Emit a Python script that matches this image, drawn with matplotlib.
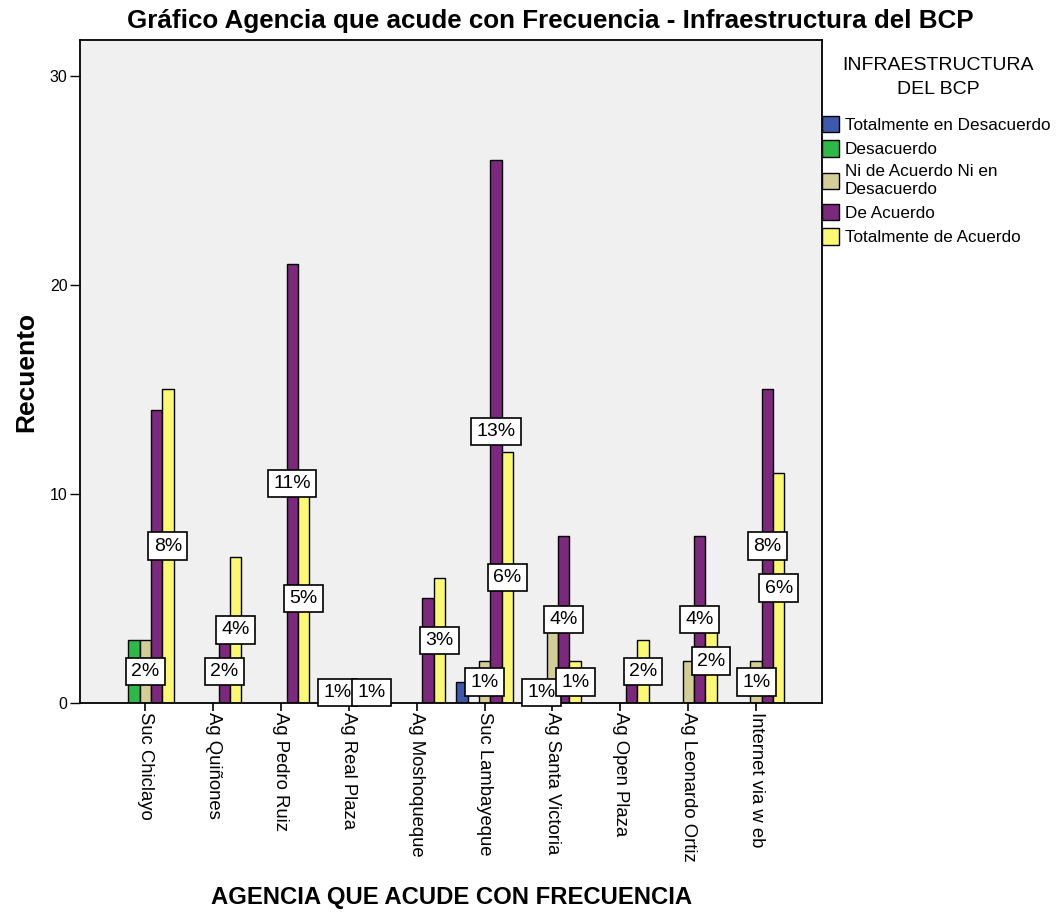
import matplotlib.pyplot as plt
import numpy as np

plt.rcParams['font.family'] = ['Liberation Sans', 'DejaVu Sans']

# Data
agencias = ['Suc Chiclayo', 'Ag Quiñones', 'Ag Pedro Ruiz', 'Ag Real Plaza', 'Ag Moshoqueque',
            'Suc Lambayeque', 'Ag Santa Victoria', 'Ag Open Plaza', 'Ag Leonardo Ortiz', 'Internet via w eb']
series = ['Totalmente en Desacuerdo', 'Desacuerdo', 'Ni de Acuerdo Ni en\nDesacuerdo',
          'De Acuerdo', 'Totalmente de Acuerdo']
tot_desacuerdo = [0, 0, 0, 0, 0, 1, 0, 0, 0, 0]
desacuerdo = [3, 0, 0, 1, 0, 0, 1, 0, 0, 0]
ni_ni = [3, 0, 0, 0, 0, 2, 4, 0, 2, 2]
de_acuerdo = [14, 3, 21, 0, 5, 26, 8, 1, 8, 15]
tot_acuerdo = [15, 7, 10, 1, 6, 12, 2, 3, 4, 11]
valores = [tot_desacuerdo, desacuerdo, ni_ni, de_acuerdo, tot_acuerdo]
colores = ['#3E58AC', '#2EB848', '#D3CE97', '#7C287D', '#FBF873']

# percentage labels shown on the chart: (agencia, serie, texto)
etiquetas = [(0, 2, '2%'), (0, 4, '8%'), (1, 3, '2%'), (1, 4, '4%'),
             (2, 3, '11%'), (2, 4, '5%'), (3, 1, '1%'), (3, 4, '1%'),
             (4, 4, '3%'), (5, 2, '1%'), (5, 3, '13%'), (5, 4, '6%'),
             (6, 1, '1%'), (6, 3, '4%'), (6, 4, '1%'), (7, 4, '2%'),
             (8, 3, '4%'), (8, 4, '2%'), (9, 2, '1%'), (9, 3, '8%'), (9, 4, '6%')]

fig = plt.figure(figsize=(10.57, 9.13), dpi=100)
ax = fig.add_axes([80/1057, 1 - 703/913, 742/1057, 663/913])
ax.set_facecolor('#F0F0F0')

x = np.arange(len(agencias))
w = 0.167
handles = []
for i, (vals, col) in enumerate(zip(valores, colores)):
    vals = np.array(vals, dtype=float)
    mask = vals > 0
    b = ax.bar(x[mask] + (i - 2) * w, vals[mask], width=w, color=col,
               edgecolor='black', linewidth=1.0, zorder=2, label=series[i])
    handles.append(b)

for a, s, txt in etiquetas:
    ax.text(a + (s - 2) * w, valores[s][a] / 2, txt, ha='center', va='center',
            fontsize=14, zorder=5, clip_on=False,
            bbox=dict(boxstyle='square,pad=0.27', fc='white', ec='black', lw=1.2))

ax.set_xlim(-0.96, 9.97)
ax.set_ylim(0, 31.72)
ax.set_yticks([0, 10, 20, 30])
ax.set_xticks(x)
ax.set_xticklabels(agencias, rotation=-90, fontsize=13.3, va='top', ha='center')
ax.tick_params(axis='y', length=7, width=1, labelsize=11.5, pad=2)
ax.tick_params(axis='x', length=5.5, width=1.2, pad=1)
for sp in ax.spines.values():
    sp.set_linewidth(1.3)
    sp.set_zorder(4)

ax.set_ylabel('Recuento', fontsize=19, fontweight='bold', labelpad=8)
fig.text(452/1057, 1 - 897/913, 'AGENCIA QUE ACUDE CON FRECUENCIA', ha='center', va='center',
         fontsize=17.2, fontweight='bold')
fig.text(550/1057, 1 - 21/913, 'Gráfico Agencia que acude con Frecuencia - Infraestructura del BCP',
         ha='center', va='center', fontsize=18.7, fontweight='bold')

# legend title and entries
fig.text(938/1057, 1 - 65/913, 'INFRAESTRUCTURA', ha='center', va='center', fontsize=14)
fig.text(938/1057, 1 - 90/913, 'DEL BCP', ha='center', va='center', fontsize=14)
leg = ax.legend(handles=handles, loc='upper left', bbox_to_anchor=(822/1057, 1 - 116/913),
                bbox_transform=fig.transFigure, frameon=False, fontsize=12.3,
                handlelength=1.0, handleheight=1.1, handletextpad=0.35,
                labelspacing=0.42, borderpad=0, borderaxespad=0)

plt.savefig('out.png', dpi=100)
